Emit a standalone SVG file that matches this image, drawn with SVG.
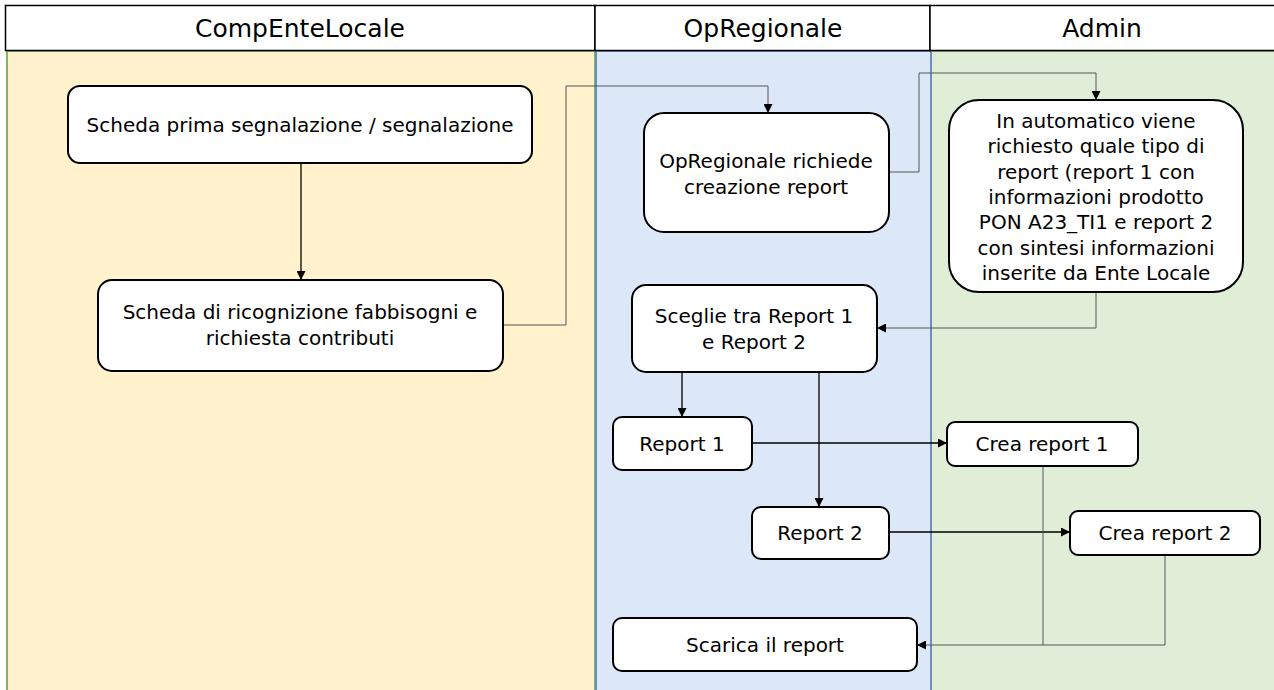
<svg xmlns="http://www.w3.org/2000/svg" width="1274" height="690" viewBox="0 0 1274 690">
  <defs>
    <marker id="arrow" viewBox="0 0 10 10" refX="10" refY="5" markerWidth="9" markerHeight="9" markerUnits="userSpaceOnUse" orient="auto">
      <path d="M0,0 L10,5 L0,10 z" fill="#000"/>
    </marker>
    <style>
      .hdr { fill: #ffffff; stroke: #000; stroke-width: 1.5; }
      .hdr-text { font-family: "DejaVu Sans", sans-serif; font-size: 25px; fill: #000; text-anchor: middle; }
      .node rect { fill: #ffffff; stroke: #000; stroke-width: 2; }
      .node text { font-family: "DejaVu Sans", sans-serif; font-size: 20px; fill: #000; text-anchor: middle; }
      .edge { fill: none; stroke: #000; stroke-width: 1.3; }
      .edge-soft { fill: none; stroke: #555; stroke-width: 1; }
    </style>
  </defs>

  <rect x="0" y="0" width="1274" height="690" fill="#ffffff"/>

  <!-- swimlane bodies -->
  <g id="lanes">
    <rect x="7" y="51" width="588" height="645" fill="#fff2cc" stroke="#82b366" stroke-width="2"/>
    <rect x="931" y="51" width="350" height="645" fill="#e0eed7" stroke="#82b366" stroke-width="2"/>
    <rect x="596" y="51" width="335" height="645" fill="#dce8f8" stroke="#6c8ebf" stroke-width="2"/>
  </g>

  <!-- swimlane headers -->
  <g id="headers">
    <rect class="hdr" x="5.5" y="5.5" width="589.5" height="45"/>
    <rect class="hdr" x="595" y="5.5" width="335" height="45"/>
    <rect class="hdr" x="930" y="5.5" width="350" height="45"/>
    <text class="hdr-text" x="300" y="37">CompEnteLocale</text>
    <text class="hdr-text" x="763" y="37">OpRegionale</text>
    <text class="hdr-text" x="1102" y="37">Admin</text>
  </g>

  <!-- connectors -->
  <g id="connectors">
    <path class="edge" d="M301,163 L301,280" marker-end="url(#arrow)"/>
    <path class="edge-soft" d="M503,325 L566,325 L566,86 L768,86 L768,113" marker-end="url(#arrow)"/>
    <path class="edge-soft" d="M889,172 L919,172 L919,73 L1096,73 L1096,100" marker-end="url(#arrow)"/>
    <path class="edge-soft" d="M1096,292 L1096,328 L877,328" marker-end="url(#arrow)"/>
    <path class="edge" d="M682,372 L682,417" marker-end="url(#arrow)"/>
    <path class="edge" d="M819,372 L819,507" marker-end="url(#arrow)"/>
    <path class="edge" d="M752,443 L947,443" marker-end="url(#arrow)"/>
    <path class="edge" d="M889,532 L1070,532" marker-end="url(#arrow)"/>
    <path class="edge-soft" d="M1043,466 L1043,645 L917,645" marker-end="url(#arrow)"/>
    <path class="edge-soft" d="M1165,555 L1165,645 L1043,645"/>
  </g>

  <!-- nodes -->
  <g id="scheda-prima" class="node">
    <rect x="68" y="86" width="464" height="77" rx="12"/>
    <text x="300" y="132">Scheda prima segnalazione / segnalazione</text>
  </g>

  <g id="scheda-ricognizione" class="node">
    <rect x="98" y="280" width="405" height="91" rx="14"/>
    <text x="300" y="319">Scheda di ricognizione fabbisogni e</text>
    <text x="300" y="345">richiesta contributi</text>
  </g>

  <g id="richiede-report" class="node">
    <rect x="644" y="113" width="245" height="119" rx="20"/>
    <text x="766" y="168">OpRegionale richiede</text>
    <text x="766" y="194">creazione report</text>
  </g>

  <g id="tipo-report" class="node">
    <rect x="949" y="100" width="294" height="192" rx="30"/>
    <text x="1096" y="128">In automatico viene</text>
    <text x="1096" y="153">richiesto quale tipo di</text>
    <text x="1096" y="179">report (report 1 con</text>
    <text x="1096" y="204">informazioni prodotto</text>
    <text x="1096" y="229">PON A23_TI1 e report 2</text>
    <text x="1096" y="255">con sintesi informazioni</text>
    <text x="1096" y="280">inserite da Ente Locale</text>
  </g>

  <g id="sceglie" class="node">
    <rect x="632" y="285" width="245" height="87" rx="14"/>
    <text x="754" y="323">Sceglie tra Report 1</text>
    <text x="754" y="349">e Report 2</text>
  </g>

  <g id="report-1" class="node">
    <rect x="613" y="417" width="139" height="53" rx="9"/>
    <text x="682" y="451">Report 1</text>
  </g>

  <g id="report-2" class="node">
    <rect x="752" y="507" width="137" height="52" rx="9"/>
    <text x="820" y="540">Report 2</text>
  </g>

  <g id="crea-report-1" class="node">
    <rect x="947" y="422" width="191" height="44" rx="8"/>
    <text x="1042" y="451">Crea report 1</text>
  </g>

  <g id="crea-report-2" class="node">
    <rect x="1070" y="511" width="190" height="44" rx="8"/>
    <text x="1165" y="540">Crea report 2</text>
  </g>

  <g id="scarica" class="node">
    <rect x="613" y="618" width="304" height="53" rx="9"/>
    <text x="765" y="652">Scarica il report</text>
  </g>
</svg>
